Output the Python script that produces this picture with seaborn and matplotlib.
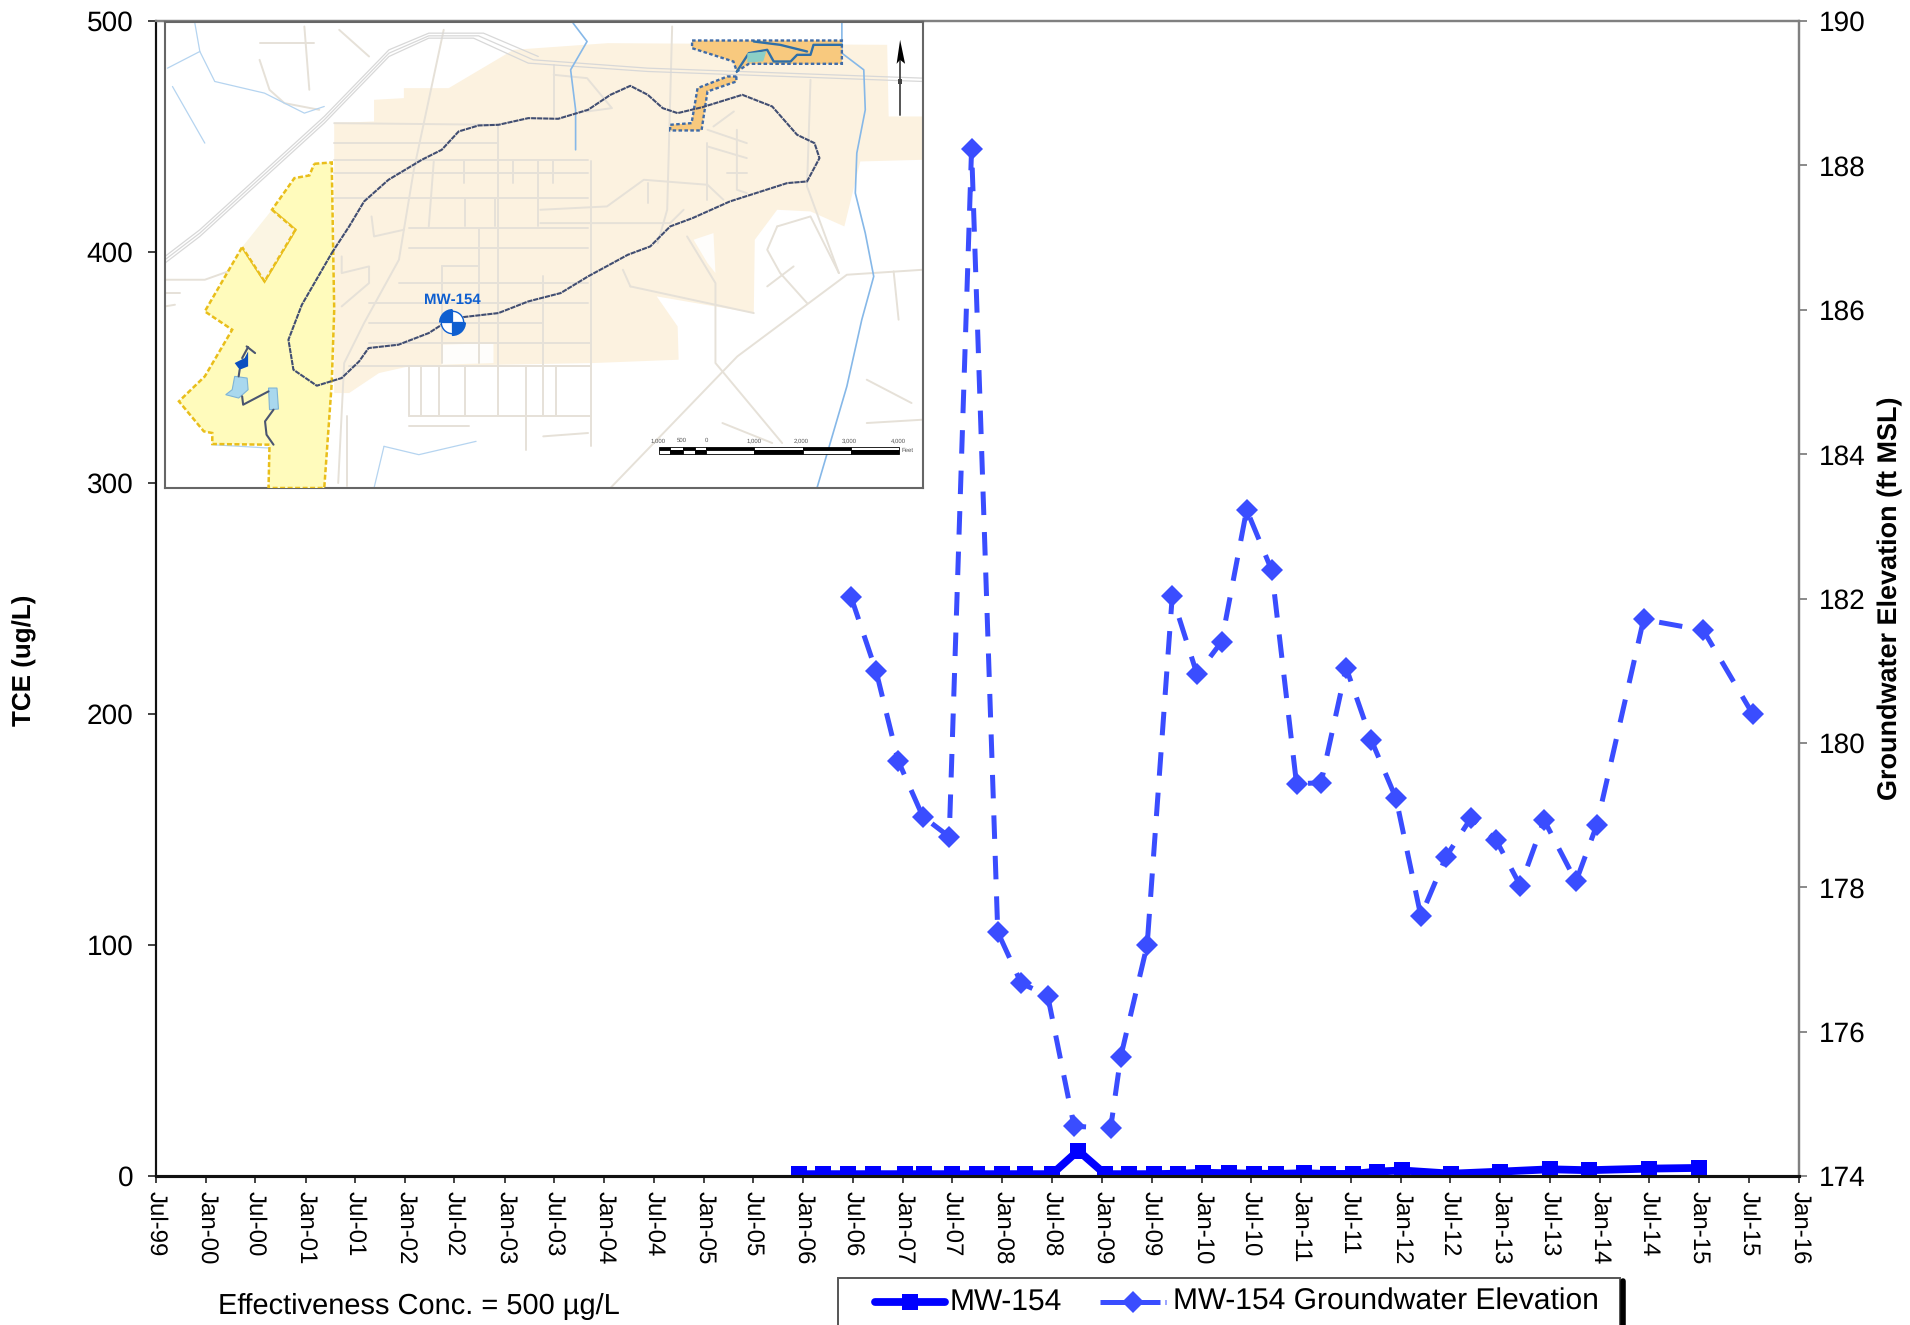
import numpy as np
import pandas as pd
import matplotlib
matplotlib.use("Agg")
import matplotlib.pyplot as plt
from matplotlib.lines import Line2D
from matplotlib.patches import Polygon, Rectangle
from matplotlib.path import Path
import seaborn as sns

# ---------- data ----------
tce_dates = ["2005-12-15","2006-03-15","2006-06-15","2006-09-15","2007-01-10","2007-03-20","2007-07-01","2007-10-01",
             "2008-01-01","2008-03-25","2008-07-01","2008-10-05","2009-01-12","2009-04-10","2009-07-10","2009-10-05",
             "2010-01-07","2010-04-12","2010-07-12","2010-10-01","2011-01-12","2011-04-10","2011-07-10","2011-10-05",
             "2012-01-05","2012-07-05","2013-01-01","2013-07-01","2013-11-20","2014-07-01","2015-01-01"]
tce_values = [0.8,0.8,0.8,0.8,0.8,0.8,0.8,0.8,0.8,0.8,0.8,11,0.8,0.8,0.8,1.0,1.4,1.2,1.0,0.9,1.2,0.9,0.9,1.9,2.4,1.0,1.9,2.9,2.5,3.2,3.5]
elev_dates = ["2006-06-25","2006-09-25","2006-12-15","2007-03-15","2007-06-20","2007-09-10","2007-12-15","2008-03-10",
              "2008-06-15","2008-09-20","2009-02-01","2009-03-10","2009-06-15","2009-09-15","2009-12-15","2010-03-15",
              "2010-06-15","2010-09-15","2010-12-15","2011-03-15","2011-06-15","2011-09-15","2011-12-15","2012-03-15",
              "2012-06-15","2012-09-15","2012-12-15","2013-03-15","2013-06-10","2013-10-05","2013-12-20","2014-06-10",
              "2015-01-15","2015-07-15"]
elev_values = [182.02,180.99,179.75,178.98,178.70,188.23,177.38,176.67,176.50,174.69,174.66,175.65,177.20,182.03,180.95,
               181.40,183.23,182.39,179.43,179.45,181.04,180.04,179.23,177.60,178.42,178.96,178.66,178.02,178.93,178.08,
               178.86,181.71,181.56,180.40]
tick_dates = pd.date_range("1999-07-01", "2016-01-01", freq="6MS")
tick_labels = [d.strftime("%b-%y") for d in tick_dates]
tce_ticks = [0, 100, 200, 300, 400, 500]
elev_ticks = [174, 176, 178, 180, 182, 184, 186, 188, 190]

tce_df = pd.DataFrame({"date": pd.to_datetime(tce_dates), "tce": tce_values})
elev_df = pd.DataFrame({"date": pd.to_datetime(elev_dates), "elev": elev_values})

# ---------- map geometry (inset sketch) ----------
tan_area = [(370,340),(450,335),(450,270),(510,265),(510,235),(600,235),(730,120),(920,100),(1481,105),(1484,320),(1553,320),
            (1553,450),(1427,455),(1395,650),(1327,605),(1260,600),(1215,690),(1213,910),(1018,860),(1060,950),(1062,1050),
            (890,1060),(520,1070),(460,1090),(400,1150),(370,1150),(370,460)]
white_patches = [[(1092,690),(1132,670),(1136,790),(1120,760)],[(586,1005),(690,1000),(690,1060),(586,1065)]]
yellow_area = [(330,462),(365,458),(368,730),(370,900),(365,1120),(350,1435),(238,1435),(240,1305),(125,1303),(125,1270),
               (108,1265),(58,1175),(110,1100),(165,960),(110,905),(185,712),(230,815),(292,660),(245,600),(290,505),(320,497)]
beige_notch = [(185,712),(245,600),(292,660),(230,815)]
orange_top = [(1089,92),(1390,92),(1390,162),(1203,162),(1179,185),(1172,155),(1089,115)]
orange_leg = [(1178,200),(1178,215),(1120,245),(1108,362),(1045,362),(1045,345),(1088,340),(1100,235),(1160,200)]
plume = [(365,730),(400,650),(430,575),(479,510),(546,450),(586,420),(620,365),(660,347),(700,345),(760,325),(820,327),(880,300),
         (925,255),(965,228),(1000,255),(1030,295),(1060,310),(1110,292),(1190,255),(1250,290),(1300,375),(1335,400),
         (1345,445),(1320,515),(1280,520),(1165,575),(1090,625),(1045,650),(1005,710),(960,735),(880,800),(825,850),
         (760,875),(700,910),(630,922),(605,935),(586,945),(560,970),(499,1005),(439,1015),(420,1055),(385,1105),(335,1128),
         (288,1080),(278,990),(305,885),(365,730)]
rivers = [[(1390,40),(1390,130),(1434,180),(1437,300),(1420,430),(1417,550),(1437,670),(1454,800),(1430,930),(1400,1130),(1340,1435)],
          [(850,40),(878,95),(845,180),(855,300),(855,420)]]
faint_rivers = [[(90,40),(100,125),(35,175)],[(100,125),(130,215),(230,250),(310,310),(350,290)],
                [(45,230),(110,400)],[(470,1310),(540,1335),(655,1295)],[(470,1310),(450,1435)],[(125,1305),(238,1315)]]
railway = [[(30,760),(100,680),(350,340),(480,140),(560,85),(650,85),(760,160),(1000,185),(1553,215)],
           [(30,750),(100,670),(350,330),(480,130),(560,78),(660,78),(770,150),(1000,175),(1553,205)],
           [(30,740),(100,660),(350,320),(480,120),(560,70),(670,70),(780,140)]]
streets = [[(370,450),(880,450)],[(370,490),(880,490)],[(370,565),(880,565)],[(520,655),(880,655)],[(520,715),(880,715)],
           [(500,820),(880,820)],[(440,880),(880,880)],[(440,940),(790,940)],[(440,1000),(885,1000)],[(400,1068),(885,1068)],
           [(520,1220),(885,1220)],[(370,340),(700,345)],[(370,400),(700,400)],[(885,455),(885,1310)],
           [(590,60),(530,480),(500,750),(430,940),(390,1060),(378,1420)],
           [(660,655),(660,1060)],[(700,350),(700,1220)],[(790,800),(790,1220)],[(586,770),(586,1060)],[(586,770),(660,770)],
           [(520,1068),(520,1220)],[(545,1068),(545,1220)],[(580,1068),(580,1220)],[(633,1068),(633,1220)],
           [(755,1068),(755,1320)],[(815,1068),(815,1220)],[(570,455),(560,650)],[(633,565),(633,650)],[(693,565),(693,650)],
           [(630,455),(630,520)],[(780,455),(780,650)],[(730,455),(730,520)],[(810,455),(810,520)],
           [(784,600),(918,590),(992,510),(1120,525),(1152,570)],[(784,640),(1045,640),(1072,600)],
           [(1049,50),(1039,600),(1020,700)],[(811,165),(811,320)],[(811,195),(878,205),(928,295),(878,305)],
           [(1327,210),(1320,530),(1384,790)],[(1260,650),(1327,620),(1384,790)],[(1260,650),(1240,720),(1266,790),(1320,880)],
           [(1240,830),(1293,770)],[(1079,680),(1136,820),(1136,1060),(1270,1300)],[(965,830),(1213,910)],
           [(950,780),(965,830)],[(925,1435),(1180,1040),(1400,795),(1553,780)],[(1494,785),(1504,930)],
           [(1120,360),(1199,400)],[(1120,410),(1199,445)],[(1160,490),(1199,490)],[(1179,360),(1179,540),(1199,550)],
           [(1120,400),(1120,570)],[(1173,305),(1132,350)],[(1000,520),(1000,580)],
           [(220,100),(330,100)],[(310,50),(320,240)],[(220,150),(240,240),(270,280),(340,300)],[(380,60),(440,140)],
           [(445,620),(450,680),(510,660)],[(385,740),(385,790),(440,770),(440,820),(385,890)],
           [(30,810),(110,810),(185,770)],[(1150,1240),(1250,1300)],[(1440,1110),(1530,1180)],[(1440,1240),(1553,1230)],
           [(395,1220),(395,1430)],[(520,1250),(640,1250)],[(790,1280),(880,1270)],[(30,850),(60,850)],[(30,890),(50,885)]]
ponds = [[(170,1100),(195,1105),(197,1140),(178,1165),(152,1155),(165,1140)],[(238,1135),(255,1135),(258,1198),(240,1200)]]
creek = [[(194,1010),(211,1030)],[(185,1045),(197,1012)],[(180,1080),(178,1100)],[(185,1160),(187,1185),(238,1145)],
         [(248,1200),(231,1235),(234,1275),(248,1305)]]
top_creeks = [[(1179,185),(1203,130),(1240,120),(1253,155),(1287,155),(1300,135),(1327,135),(1333,105),(1390,105)],
              [(1213,95),(1266,105),(1320,125)]]
bar_edges = [1022,1045,1070,1095,1118,1214,1311,1408,1505]
scale_values = ["1,000","500","0","1,000","2,000","3,000","4,000"]
scale_pos = [1020,1068,1117,1213,1309,1405,1503]

# ---------- figure ----------
sns.set_theme(style="white")
plt.rcParams["font.family"] = ["Liberation Sans", "DejaVu Sans"]
plt.rcParams["text.hinting"] = "no_hinting"
plt.rcParams["text.hinting_factor"] = 1
W, H = 1910, 1325
fig = plt.figure(figsize=(W/100, H/100), dpi=100)
L, R, T, B = 155.6, 1799, 21, 1176
ax = fig.add_axes([L/W, 1-B/H, (R-L)/W, (B-T)/H])
ax2 = ax.twinx()

BLUE = "#0000FF"
LBLUE = "#3A4DFF"
DASH = (4.7, 3.4)
GOLD = "#E9BE1A"
sns.lineplot(data=tce_df, x="date", y="tce", ax=ax, color=BLUE, lw=5.6, marker="s", ms=11.5,
             markeredgewidth=0, errorbar=None, zorder=5)
sns.lineplot(data=elev_df, x="date", y="elev", ax=ax2, color=LBLUE, lw=3.6, marker="D", ms=10.8,
             markeredgewidth=0, errorbar=None, dashes=DASH, zorder=4)

ax.set_ylim(0, 500)
ax2.set_ylim(174, 190)
ax.set_xlim(pd.Timestamp("1999-07-01"), pd.Timestamp("2016-01-01"))
ax.set_xticks(tick_dates)
ax.set_xticklabels(tick_labels, rotation=270, ha="center", va="top", fontsize=17.5)
ax.set_yticks(tce_ticks)
ax2.set_yticks(elev_ticks)
ax.tick_params(axis="y", left=True, length=6, width=1.2, color="#222222", labelsize=19.8, pad=10, labelcolor="black")
ax.tick_params(axis="x", bottom=True, length=5, width=1.2, color="#222222", pad=6, labelcolor="black")
ax2.tick_params(axis="y", right=True, length=6, width=1.2, color="#777777", labelsize=20, pad=8, labelcolor="black")
ax.set_xlabel(""); ax.set_ylabel(""); ax2.set_xlabel(""); ax2.set_ylabel("")
ax.grid(False); ax2.grid(False)
for a in (ax, ax2):
    a.spines["left"].set_color("#111111"); a.spines["left"].set_linewidth(1.5)
    a.spines["bottom"].set_color("#111111"); a.spines["bottom"].set_linewidth(2.2)
    a.spines["top"].set_color("#808080"); a.spines["top"].set_linewidth(1.6)
    a.spines["right"].set_color("#808080"); a.spines["right"].set_linewidth(1.6)

fig.text(25/W, 1-660/H, "TCE (ug/L)", rotation=90, ha="center", va="center", fontsize=19, fontweight="bold", color="black")
fig.text(1890/W, 1-598/H, "Groundwater Elevation (ft MSL)", rotation=90, ha="center", va="center", fontsize=19.3,
         fontweight="bold", color="black")
fig.text(218/W, 1-1306/H, "Effectiveness Conc. = 500 µg/L", ha="left", va="center", fontsize=21.2, color="black")

# legend (runs off the bottom of the page, as in the source)
handles = [Line2D([], [], color=BLUE, lw=5.6, marker="s", ms=11.5, mew=0, solid_capstyle="round"),
           Line2D([], [], color=LBLUE, lw=3.6, marker="D", ms=10.8, mew=0, dashes=(5.5, 1.0))]
fig.add_artist(Rectangle((838/W, 1-1345/H), 782/W, 67/H, transform=fig.transFigure, fc="white", ec="#555555", lw=1.4))
fig.add_artist(Line2D([1623/W, 1623/W], [1-1281/H, 0], transform=fig.transFigure, color="black", lw=4))
for h, (x0, x1), (tx, lab) in zip(handles, [(875, 945), (1100, 1166)], [(950, "MW-154"), (1173, "MW-154 Groundwater Elevation")]):
    h.set_xdata([x0/W, (x0+x1)/2/W, x1/W]); h.set_ydata([1-1302/H]*3)
    h.set_markevery([1]); h.set_transform(fig.transFigure)
    fig.add_artist(h)
    fig.text(tx/W, 1-1302/H, lab, ha="left", va="center", fontsize=21.3, color="black")

# inset location map
m = fig.add_axes([165/W, 1-488/H, 758/W, 465.5/H], zorder=10)
m.set_xlim(30, 1553); m.set_ylim(1435, 38)
m.set_xticks([]); m.set_yticks([])
m.set_facecolor("white")
for s in m.spines.values():
    s.set_color("#666666"); s.set_linewidth(1.5); s.set_visible(True)
m.add_patch(Polygon(tan_area, fc="#FCF2E0", ec="none", zorder=1))
for p in white_patches:
    m.add_patch(Polygon(p, fc="#FEFDFB", ec="none", zorder=1))
for st in streets:
    a = np.array(st); m.plot(a[:,0], a[:,1], color="#E6E1D8", lw=1.4, zorder=2)
for st in railway:
    a = np.array(st); m.plot(a[:,0], a[:,1], color="#D8D8D8", lw=0.9, zorder=2)
for st in rivers:
    a = np.array(st); m.plot(a[:,0], a[:,1], color="#86B8E8", lw=1.2, zorder=2)
for st in faint_rivers:
    a = np.array(st); m.plot(a[:,0], a[:,1], color="#B5D4F0", lw=0.9, zorder=2)
m.add_patch(Polygon(yellow_area, fc="#FFFBBC", ec=GOLD, lw=1.8, ls=(0, (2, 1)), zorder=3))
m.add_patch(Polygon(beige_notch, fc="#FBF5E3", ec="none", zorder=3))
for a0, b0 in zip(beige_notch[:-1], beige_notch[1:]):
    if a0 != (185,712) or b0 != (245,600):
        m.plot([a0[0], b0[0]], [a0[1], b0[1]], color=GOLD, lw=1.8, ls=(0, (2, 1)), zorder=3)
m.plot([beige_notch[-1][0], beige_notch[0][0]], [beige_notch[-1][1], beige_notch[0][1]], color=GOLD, lw=1.8,
       ls=(0, (2, 1)), zorder=3)
for poly in (orange_top, orange_leg):
    m.add_patch(Polygon(poly, fc="#F8C97E", ec="#3F6BA8", lw=1.7, ls=(0, (1.5, 1)), zorder=3))
for c in top_creeks:
    a = np.array(c); m.plot(a[:,0], a[:,1], color="#2F6FA8", lw=1.7, zorder=4)
m.add_patch(Polygon([(1200,130),(1238,125),(1232,155),(1200,158)], fc="#8CCFC6", ec="none", zorder=4))
for p in ponds:
    m.add_patch(Polygon(p, fc="#A9D8EE", ec="#7FB4D6", lw=0.8, zorder=4))
for c in creek:
    a = np.array(c); m.plot(a[:,0], a[:,1], color="#4A5570", lw=1.5, zorder=4)
m.add_patch(Polygon([(170,1060),(190,1045),(197,1025),(197,1070),(180,1080)], fc="#0B4FC0", ec="none", zorder=4))
a = np.array(plume); m.plot(a[:,0], a[:,1], color="#414E72", lw=1.5, ls=(0, (2.5, 0.4)), zorder=5)
m.text(607, 872, "MW-154", color="#0F5FD0", fontsize=10.6, fontweight="bold", ha="center", va="center", zorder=7)
m.scatter([607], [938], s=260, c="white", edgecolors="#0F5FD0", linewidths=1.0, zorder=6)
m.scatter([607], [938], s=380, marker=Path.wedge(90, 180), c="#0F5FD0", linewidths=0, zorder=7)
m.scatter([607], [938], s=380, marker=Path.wedge(270, 360), c="#0F5FD0", linewidths=0, zorder=7)
m.plot([607, 607], [900, 976], color="#0F5FD0", lw=0.9, zorder=7)
m.plot([585, 630], [938, 938], color="#0F5FD0", lw=0.9, zorder=7)
# scale bar
for i in range(len(bar_edges)-1):
    x0, x1 = bar_edges[i], bar_edges[i+1]
    up = i % 2 == 0
    m.add_patch(Rectangle((x0, 1312), x1-x0, 10, fc="black" if up else "white", ec="black", lw=0.6, zorder=8))
    m.add_patch(Rectangle((x0, 1322), x1-x0, 10, fc="white" if up else "black", ec="black", lw=0.6, zorder=8))
for x, s in zip(scale_pos, scale_values):
    m.text(x, 1292, s, fontsize=4.6, ha="center", va="center", color="#555555", zorder=8)
m.text(1510, 1323, "Feet", fontsize=4.6, ha="left", va="center", color="#555555", zorder=8)
# north arrow
m.plot([1507, 1507], [150, 315], color="#555555", lw=1.4, zorder=8)
m.add_patch(Polygon([(1507,90),(1517,162),(1507,150),(1500,162)], fc="black", ec="none", zorder=8))
m.add_patch(Rectangle((1503, 208), 8, 16, fc="#444444", ec="none", zorder=8))

fig.savefig("out.png", dpi=100)
